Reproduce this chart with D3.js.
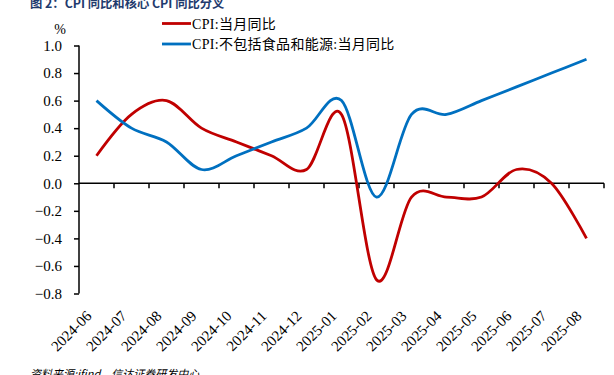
<!DOCTYPE html>
<html>
<head>
<meta charset="utf-8">
<script src="https://cdn.jsdelivr.net/npm/d3@7"></script>
<style>
  body { margin: 0; background: #fff; }
  svg text { font-family: "Liberation Serif", "Times New Roman", "Noto Sans CJK SC", serif; fill: #000; }
  .axis path, .axis line { stroke: #000; stroke-width: 1.5; }
</style>
</head>
<body>
<div id="chart"></div>
<script>
// chart data
const months = ["2024-06", "2024-07", "2024-08", "2024-09", "2024-10", "2024-11", "2024-12",
  "2025-01", "2025-02", "2025-03", "2025-04", "2025-05", "2025-06", "2025-07", "2025-08"];
const cpi = [0.2, 0.5, 0.6, 0.4, 0.3, 0.2, 0.1, 0.5, -0.7, -0.1, -0.1, -0.1, 0.1, 0.0, -0.4];
const coreCpi = [0.6, 0.4, 0.3, 0.1, 0.2, 0.3, 0.4, 0.6, -0.1, 0.5, 0.5, 0.6, 0.7, 0.8, 0.9];
const yTicks = [-0.8, -0.6, -0.4, -0.2, 0.0, 0.2, 0.4, 0.6, 0.8, 1.0];
const seriesNames = ["CPI:当月同比", "CPI:不包括食品和能源:当月同比"];
const seriesColors = ["#C00000", "#0070C0"];

const width = 614, height = 375;
const margin = { t: 45.5, l: 79, r: 10, b: 81.5 };

const svg = d3.select("#chart").append("svg")
  .attr("width", width)
  .attr("height", height);

const x = d3.scaleBand()
  .domain(months)
  .range([margin.l, 604])
  .padding(0);

const y = d3.scaleLinear()
  .domain([-0.8, 1.0])
  .range([height - margin.b, margin.t]);

// title (cut off at top like the source)
svg.append("text")
  .attr("x", 30).attr("y", 7.5)
  .style("font-family", "'Noto Sans CJK SC', sans-serif")
  .style("font-weight", "bold")
  .style("font-size", "12.3px")
  .style("fill", "#1F3B6E")
  .text("图 2：CPI 同比和核心 CPI 同比分叉");

// y axis
const yAxis = svg.append("g")
  .attr("class", "axis")
  .attr("transform", "translate(" + margin.l + ",0)")
  .call(d3.axisLeft(y).tickValues(yTicks).tickFormat(d3.format(".1f")).tickSize(5).tickSizeOuter(0));
yAxis.selectAll("text").style("font-size", "15px").attr("x", -17);
yAxis.select(".domain").attr("d", "M0," + y(1.0) + "V" + y(-0.8));

svg.append("text")
  .attr("x", 60).attr("y", 34)
  .attr("text-anchor", "middle")
  .style("font-size", "14px")
  .text("%");

// x axis on the zero line, ticks at band edges
const xAxis = svg.append("g")
  .attr("class", "axis")
  .attr("transform", "translate(0," + y(0) + ")");
xAxis.append("line")
  .attr("x1", margin.l).attr("x2", x.range()[1]);
xAxis.selectAll("line.tk")
  .data(months)
  .enter().append("line")
  .attr("class", "tk")
  .attr("x1", d => x(d) + x.bandwidth())
  .attr("x2", d => x(d) + x.bandwidth())
  .attr("y1", 0).attr("y2", 5);

// x labels at the bottom, rotated
svg.append("g")
  .selectAll("text")
  .data(months)
  .enter().append("text")
  .attr("transform", d => "translate(" + (x(d) + x.bandwidth() / 2 - 4) + "," + (height - margin.b + 23.5) + ") rotate(-45)")
  .attr("text-anchor", "end")
  .style("font-size", "15px")
  .text(d => d);

// lines
const line = d3.line()
  .x((d, i) => x(months[i]) + x.bandwidth() / 2)
  .y(d => y(d))
  .curve(d3.curveCatmullRom.alpha(0));

[cpi, coreCpi].forEach((s, k) => {
  svg.append("path")
    .datum(s)
    .attr("fill", "none")
    .attr("stroke", seriesColors[k])
    .attr("stroke-width", 2.8)
    .attr("d", line);
});

// legend
const legend = svg.append("g");
seriesNames.forEach((name, k) => {
  const ly = 23.5 + k * 20.5;
  legend.append("line")
    .attr("x1", 162).attr("x2", 191)
    .attr("y1", ly).attr("y2", ly)
    .attr("stroke", seriesColors[k])
    .attr("stroke-width", 2.8);
  legend.append("text")
    .attr("x", 192).attr("y", ly + 5)
    .style("font-size", "14px")
    .style("letter-spacing", "0.3px")
    .text(name);
});

// source note (cut off at bottom)
svg.append("text")
  .attr("x", 30).attr("y", 378)
  .style("font-family", "'Noto Sans CJK SC', sans-serif")
  .style("font-size", "11px")
  .style("font-style", "italic")
  .text("资料来源:ifind，信达证券研发中心");
</script>
</body>
</html>
